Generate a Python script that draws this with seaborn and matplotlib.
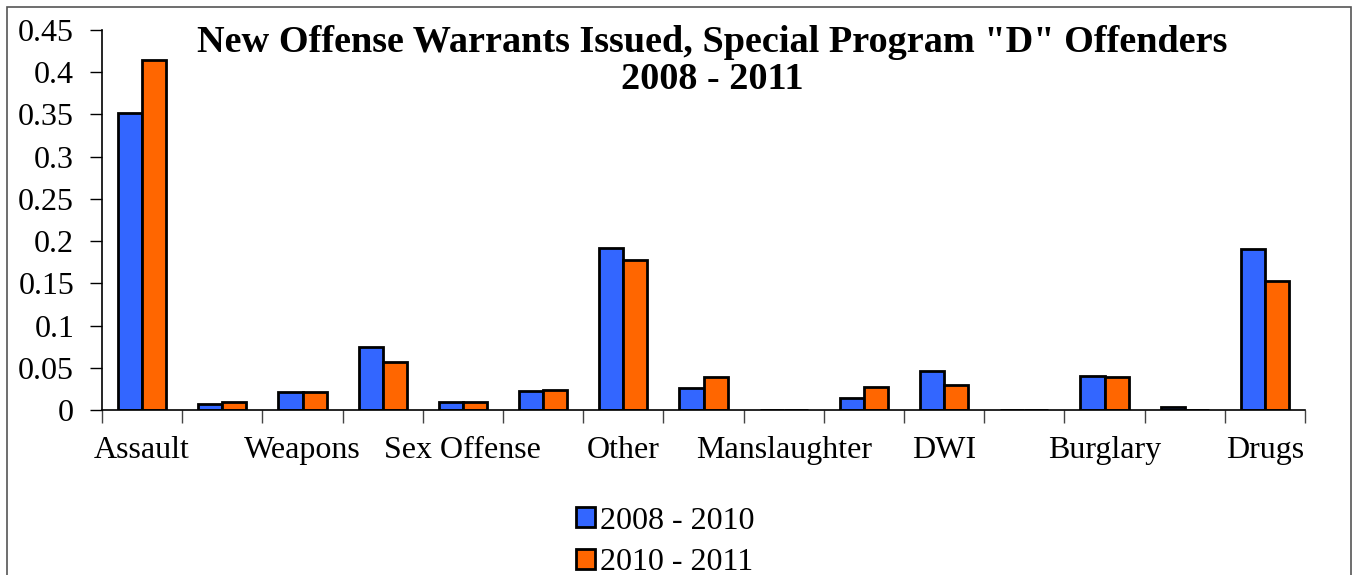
import pandas as pd
import seaborn as sns
import matplotlib.pyplot as plt
from matplotlib.patches import Rectangle
from matplotlib.ticker import FuncFormatter

# ---------------- data ----------------
categories = ["Assault", "Robbery", "Weapons", "Larceny", "Sex Offense",
              "Criminal Mischief", "Other", "Trespass", "Manslaughter",
              "Homicide", "DWI", "Kidnapping", "Burglary", "Arson", "Drugs"]
shown_labels = ["Assault", "Weapons", "Sex Offense", "Other",
                "Manslaughter", "DWI", "Burglary", "Drugs"]
periods = ["2008 - 2010", "2010 - 2011"]
vals_0810 = [0.352, 0.007, 0.021, 0.075, 0.009, 0.023, 0.192, 0.026,
             0.0, 0.014, 0.046, 0.0, 0.040, 0.003, 0.191]
vals_1011 = [0.414, 0.009, 0.021, 0.057, 0.009, 0.024, 0.178, 0.039,
             0.0, 0.027, 0.030, 0.0, 0.039, 0.0, 0.153]
y_ticks = [0, 0.05, 0.1, 0.15, 0.2, 0.25, 0.3, 0.35, 0.4, 0.45]

df = pd.DataFrame({
    "offense": categories * 2,
    "period": [periods[0]] * len(categories) + [periods[1]] * len(categories),
    "rate": vals_0810 + vals_1011,
})

# ---------------- style ----------------
sns.set_theme(style="ticks")
plt.rcParams["font.family"] = ["Liberation Serif", "DejaVu Serif"]
plt.rcParams["text.color"] = "black"
plt.rcParams["xtick.color"] = "black"
plt.rcParams["ytick.color"] = "black"

fig = plt.figure(figsize=(13.54, 5.75), dpi=100)
ax = fig.add_axes([102 / 1354, 1 - 410 / 575, 1203 / 1354, 380 / 575])

sns.barplot(data=df, x="offense", y="rate", hue="period", order=categories,
            hue_order=periods, palette=["#3366FF", "#FF6600"],
            width=0.6, edgecolor="black", linewidth=2.0, saturation=1,
            ax=ax, legend=True)

ax.set_xlim(-0.5, len(categories) - 0.5)
ax.set_ylim(0, 0.45)
ax.set_yticks(y_ticks)
ax.yaxis.set_major_formatter(FuncFormatter(lambda v, p: f"{v:g}"))
ax.tick_params(axis="y", labelsize=23, length=9, width=1, color="black",
               labelcolor="black", pad=11)

# x: labels on every other category, tick marks between categories
label_pos = [categories.index(c) for c in shown_labels]
ax.set_xticks(label_pos)
ax.set_xticklabels(shown_labels)
ax.set_xticks([i - 0.5 for i in range(len(categories) + 1)], minor=True)
ax.tick_params(axis="x", which="major", length=0, labelsize=23, pad=19,
               labelcolor="black")
ax.tick_params(axis="x", which="minor", length=9, width=1, color="#444444")

ax.set_xlabel("")
ax.set_ylabel("")
sns.despine(ax=ax, top=True, right=True)
ax.spines["left"].set_color("black")
ax.spines["bottom"].set_color("black")
ax.spines["left"].set_linewidth(1.2)
ax.spines["bottom"].set_linewidth(1.2)

# title inside the plot area
fig.text(712 / 1354, 1 - 61 / 575,
         'New Offense Warrants Issued, Special Program "D" Offenders\n2008 - 2011',
         ha="center", va="center", fontsize=27.5, fontweight="bold",
         linespacing=1.1)

# legend below
handles, labels = ax.get_legend_handles_labels()
ax.get_legend().remove()
fig.legend(handles, labels, loc="center", bbox_to_anchor=(665 / 1354, 1 - 542 / 575),
           frameon=False, fontsize=23, handlelength=0.6, handleheight=0.6,
           handletextpad=0.15, labelspacing=0.4, borderpad=0)

# chart border
fig.patches.append(Rectangle((7 / 1354, -0.02), 1344 / 1354, 1 - 7 / 575 + 0.02,
                             transform=fig.transFigure, fill=False,
                             edgecolor="#555555", linewidth=1.2))

fig.savefig("out.png", dpi=100)
